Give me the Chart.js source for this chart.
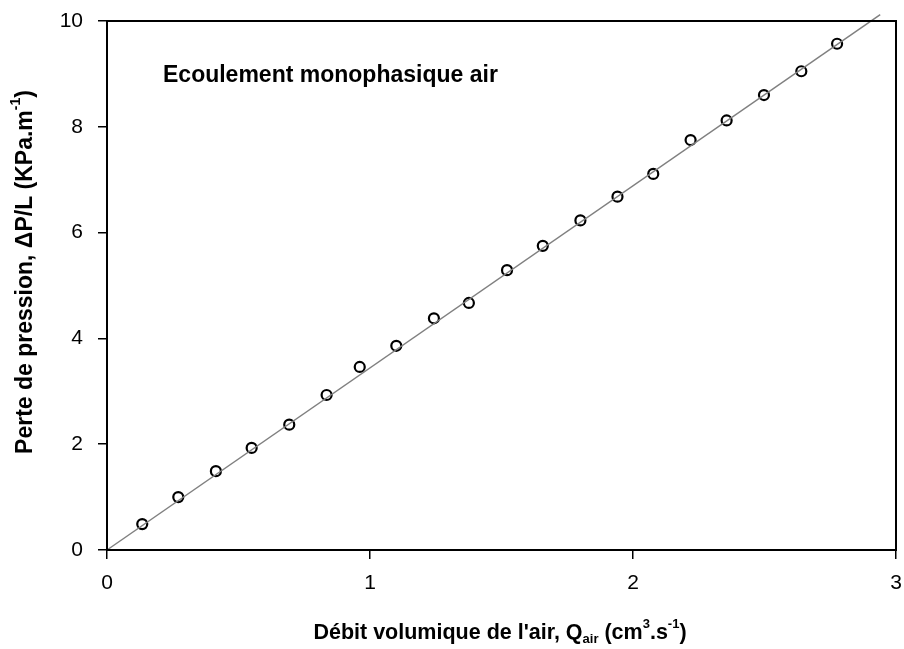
<!DOCTYPE html>
<html>
<head>
<meta charset="utf-8">
<script src="https://cdn.jsdelivr.net/npm/chart.js@4/dist/chart.umd.min.js"></script>
<style>
  html, body { margin: 0; padding: 0; background: #fff; }
  #wrap { width: 904px; height: 649px; }
</style>
</head>
<body>
<div id="wrap"><canvas id="chart" width="904" height="649"></canvas></div>
<script>
// debit volumique Q_air (cm3/s) et perte de pression dP/L (kPa/m)
const qAir = [0.134, 0.271, 0.414, 0.550, 0.693, 0.835, 0.961, 1.100, 1.243, 1.376,
              1.521, 1.657, 1.800, 1.941, 2.077, 2.219, 2.356, 2.498, 2.640, 2.776]
const dpL = [0.49, 1.00, 1.49, 1.93, 2.37, 2.93, 3.46, 3.86, 4.38, 4.67,
             5.29, 5.75, 6.23, 6.68, 7.11, 7.75, 8.12, 8.60, 9.05, 9.57]
// droite de regression (debut et fin)
const fitX = [0, 2.94]
const fitY = [0, 10.12]

const xTicks = [0, 1, 2, 3]
const yTicks = [0, 2, 4, 6, 8, 10]

const annotation = 'Ecoulement monophasique air'
const xTitle = [
  { t: "Débit volumique de l'air, Q" },
  { t: 'air', m: 'sub' },
  { t: ' (cm' },
  { t: '3', m: 'sup' },
  { t: '.s' },
  { t: '-1', m: 'sup' },
  { t: ')' }
]
const yTitle = [
  { t: 'Perte de pression, ΔP/L (KPa.m' },
  { t: '-1', m: 'sup' },
  { t: ')' }
]

const family = "'Liberation Sans', Arial, sans-serif"

function richText(ctx, parts, cx, cy, size) {
  const big = 'bold ' + size + 'px ' + family
  const small = 'bold ' + Math.round(size * 0.62) + 'px ' + family
  let total = 0
  parts.forEach(p => {
    ctx.font = p.m ? small : big
    total += ctx.measureText(p.t).width
  })
  let x = cx - total / 2
  ctx.textBaseline = 'middle'
  ctx.textAlign = 'left'
  parts.forEach(p => {
    ctx.font = p.m ? small : big
    let dy = 0
    if (p.m === 'sup') dy = -size * 0.42
    if (p.m === 'sub') dy = size * 0.28
    ctx.fillText(p.t, x, cy + dy)
    x += ctx.measureText(p.t).width
  })
}

const decor = {
  id: 'decor',
  afterDraw(chart) {
    const ctx = chart.ctx
    const a = chart.chartArea
    ctx.save()
    ctx.strokeStyle = '#000'
    ctx.lineWidth = 2
    ctx.strokeRect(a.left, a.top, a.right - a.left, a.bottom - a.top)
    ctx.fillStyle = '#000'
    richText(ctx, xTitle, 500, 633, 21.5)
    ctx.save()
    ctx.translate(26, 272)
    ctx.rotate(-Math.PI / 2)
    richText(ctx, yTitle, 0, 0, 23)
    ctx.restore()
    ctx.font = 'bold 23px ' + family
    ctx.textAlign = 'left'
    ctx.textBaseline = 'middle'
    ctx.fillText(annotation, 163, 76)
    ctx.restore()
  }
}

const noPad = s => { s.paddingLeft = 0; s.paddingRight = 0; s.paddingTop = 0; s.paddingBottom = 0 }

const ctx = document.getElementById('chart').getContext('2d')

new Chart(ctx, {
  type: 'scatter',
  data: {
    datasets: [{
      type: 'line',
      data: fitX.map((x, i) => ({ x: x, y: fitY[i] })),
      borderColor: '#808080',
      borderWidth: 1.5,
      pointRadius: 0,
      clip: false
    }, {
      data: qAir.map((x, i) => ({ x: x, y: dpL[i] })),
      pointStyle: 'circle',
      pointRadius: 5,
      borderWidth: 2.2,
      borderColor: '#000',
      backgroundColor: 'rgba(0,0,0,0)'
    }]
  },
  options: {
    responsive: false,
    animation: false,
    devicePixelRatio: 1,
    layout: { padding: { top: 21, right: 8, left: 0, bottom: 0 } },
    scales: {
      x: {
        type: 'linear',
        min: 0,
        max: 3,
        afterBuildTicks: s => { s.ticks = xTicks.map(v => ({ value: v })) },
        afterFit: s => { s.height = 99; noPad(s) },
        grid: { drawOnChartArea: false, color: '#000', lineWidth: 1.5, tickLength: 9 },
        border: { color: '#000', width: 2 },
        ticks: { color: '#000', padding: 12, font: { family: family, size: 21 } }
      },
      y: {
        type: 'linear',
        min: 0,
        max: 10,
        afterBuildTicks: s => { s.ticks = yTicks.map(v => ({ value: v })) },
        afterFit: s => { s.width = 107; noPad(s) },
        grid: { drawOnChartArea: false, color: '#000', lineWidth: 1.5, tickLength: 9 },
        border: { color: '#000', width: 2 },
        ticks: { color: '#000', padding: 15, font: { family: family, size: 21 } }
      }
    },
    plugins: {
      legend: { display: false },
      tooltip: { enabled: false }
    }
  },
  plugins: [decor]
});
</script>
</body>
</html>
